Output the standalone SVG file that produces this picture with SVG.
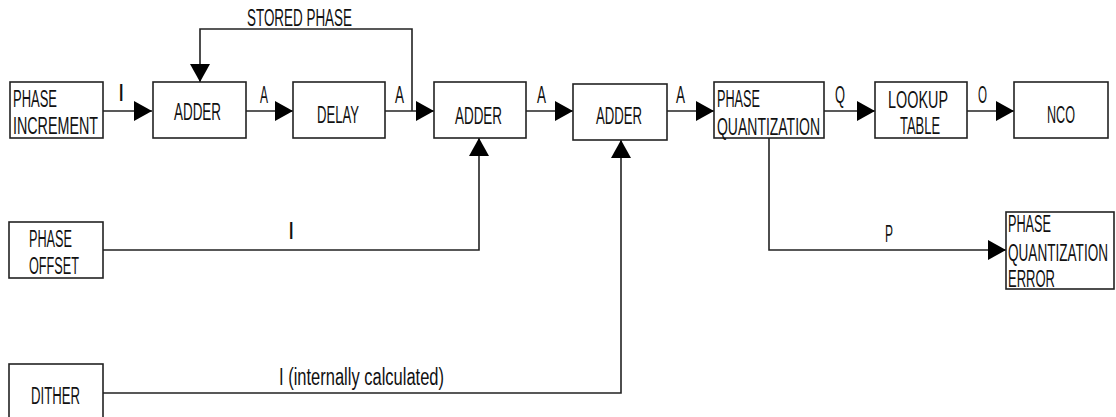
<svg xmlns="http://www.w3.org/2000/svg" width="1116" height="417" viewBox="0 0 1116 417">
<style>
.box{fill:#fff;stroke:#222;stroke-width:1.6}
.ln{fill:none;stroke:#222;stroke-width:1.6}
text{font-family:"Liberation Sans",Arial,sans-serif;font-size:23px;fill:#111}
</style>
<defs>
<marker id="ah" markerUnits="userSpaceOnUse" markerWidth="19" markerHeight="21" refX="18" refY="10" orient="auto" viewBox="0 0 19 21">
<path d="M0,0 L18,10 L0,20 Z" fill="#000"/>
</marker>
</defs>
<rect width="1116" height="417" fill="#fff"/>
<g id="connectors">
<path class="ln" d="M103,111 H152" marker-end="url(#ah)"/>
<path class="ln" d="M246,111 H293" marker-end="url(#ah)"/>
<path class="ln" d="M385,111 H434" marker-end="url(#ah)"/>
<path class="ln" d="M412,111 V29 H200 V82" marker-end="url(#ah)"/>
<path class="ln" d="M526,111 H573" marker-end="url(#ah)"/>
<path class="ln" d="M667,111 H714" marker-end="url(#ah)"/>
<path class="ln" d="M824,111 H875" marker-end="url(#ah)"/>
<path class="ln" d="M967,111 H1014" marker-end="url(#ah)"/>
<path class="ln" d="M103,250 H479 V138" marker-end="url(#ah)"/>
<path class="ln" d="M103,393 H621 V140" marker-end="url(#ah)"/>
<path class="ln" d="M769,138 V250 H1006" marker-end="url(#ah)"/>
<text x="247" y="26" textLength="105" lengthAdjust="spacingAndGlyphs">STORED PHASE</text>
<text x="118" y="101">I</text>
<text x="260" y="103" textLength="8" lengthAdjust="spacingAndGlyphs">A</text>
<text x="395" y="103" textLength="9" lengthAdjust="spacingAndGlyphs">A</text>
<text x="537" y="103" textLength="9" lengthAdjust="spacingAndGlyphs">A</text>
<text x="676" y="103" textLength="9" lengthAdjust="spacingAndGlyphs">A</text>
<text x="835" y="103" textLength="10" lengthAdjust="spacingAndGlyphs">Q</text>
<text x="978" y="103" textLength="9" lengthAdjust="spacingAndGlyphs">O</text>
<text x="288" y="239">I</text>
<text x="279" y="385" textLength="165" lengthAdjust="spacingAndGlyphs">I (internally calculated)</text>
<text x="885" y="242" textLength="8" lengthAdjust="spacingAndGlyphs">P</text>
</g>
<g id="phase_increment">
<rect class="box" x="10" y="82" width="93" height="56"/>
<text x="13" y="107" textLength="44" lengthAdjust="spacingAndGlyphs">PHASE</text>
<text x="13" y="134" textLength="85" lengthAdjust="spacingAndGlyphs">INCREMENT</text>
</g>
<g id="adder1">
<rect class="box" x="153" y="82" width="93" height="56"/>
<text x="174" y="120" textLength="47" lengthAdjust="spacingAndGlyphs">ADDER</text>
</g>
<g id="delay">
<rect class="box" x="293" y="82" width="92" height="56"/>
<text x="317" y="123" textLength="42" lengthAdjust="spacingAndGlyphs">DELAY</text>
</g>
<g id="adder2">
<rect class="box" x="434" y="82" width="92" height="56"/>
<text x="455" y="124" textLength="47" lengthAdjust="spacingAndGlyphs">ADDER</text>
</g>
<g id="adder3">
<rect class="box" x="573" y="84" width="94" height="56"/>
<text x="596" y="124" textLength="46" lengthAdjust="spacingAndGlyphs">ADDER</text>
</g>
<g id="phase_quantization">
<rect class="box" x="714" y="82" width="110" height="56"/>
<text x="717" y="107" textLength="43" lengthAdjust="spacingAndGlyphs">PHASE</text>
<text x="717" y="135" textLength="103" lengthAdjust="spacingAndGlyphs">QUANTIZATION</text>
</g>
<g id="lookup_table">
<rect class="box" x="875" y="82" width="92" height="56"/>
<text x="888" y="108" textLength="60" lengthAdjust="spacingAndGlyphs">LOOKUP</text>
<text x="900" y="134" textLength="40" lengthAdjust="spacingAndGlyphs">TABLE</text>
</g>
<g id="nco">
<rect class="box" x="1014" y="82" width="94" height="56"/>
<text x="1047" y="123" textLength="28" lengthAdjust="spacingAndGlyphs">NCO</text>
</g>
<g id="phase_offset">
<rect class="box" x="9" y="222" width="94" height="56"/>
<text x="29" y="247" textLength="43" lengthAdjust="spacingAndGlyphs">PHASE</text>
<text x="29" y="274" textLength="50" lengthAdjust="spacingAndGlyphs">OFFSET</text>
</g>
<g id="dither">
<rect class="box" x="9" y="364" width="94" height="70"/>
<text x="31" y="404" textLength="49" lengthAdjust="spacingAndGlyphs">DITHER</text>
</g>
<g id="phase_quantization_error">
<rect class="box" x="1006" y="212" width="108" height="77"/>
<text x="1008" y="232" textLength="43" lengthAdjust="spacingAndGlyphs">PHASE</text>
<text x="1008" y="261" textLength="100" lengthAdjust="spacingAndGlyphs">QUANTIZATION</text>
<text x="1008" y="287" textLength="47" lengthAdjust="spacingAndGlyphs">ERROR</text>
</g>
</svg>
